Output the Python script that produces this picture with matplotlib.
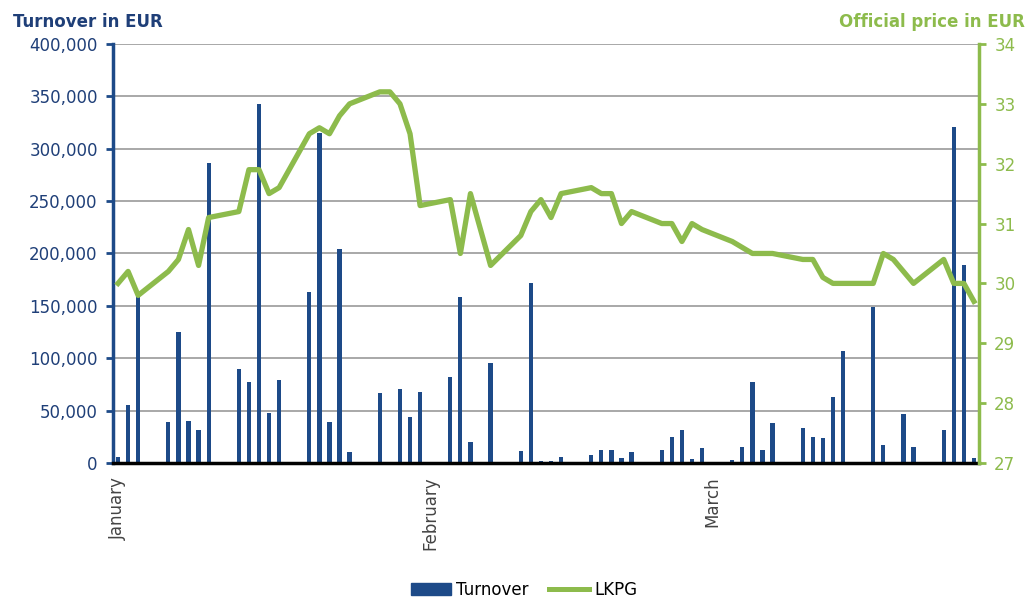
import matplotlib
matplotlib.use("Agg")
import matplotlib.pyplot as plt
from matplotlib.patches import Patch
from matplotlib.lines import Line2D
from matplotlib.ticker import FuncFormatter

# days counted from 1 January
bar_days = [0, 1, 2, 5, 6, 7, 8, 9, 12, 13, 14, 15, 16, 19, 20, 21, 22, 23,
            26, 28, 29, 30, 33, 34, 35, 37, 40, 41, 42, 43, 44, 47, 48, 49, 50, 51,
            54, 55, 56, 57, 58, 61, 62, 63, 64, 65, 68, 69, 70, 71, 72,
            75, 76, 78, 79, 82, 83, 84, 85]
turnover = [6000, 55000, 159000, 39500, 125000, 40000, 31500, 286000, 90000, 77000,
            343000, 47400, 79000, 163500, 315000, 39400, 204000, 10800,
            66500, 70600, 44200, 68100, 81800, 158800, 20400, 95200,
            11800, 172100, 2200, 2200, 5400, 7600, 12400, 12400, 4500, 10800,
            12400, 24500, 31500, 3800, 14600, 2900, 15600, 77000, 12400, 37900,
            33100, 25100, 23600, 62700, 107200, 148600, 17200, 46500, 15600,
            31500, 321000, 189000, 4500]

price_days = [0, 1, 2, 5, 6, 7, 8, 9, 12, 13, 14, 15, 16, 19, 20, 21, 22, 23,
              26, 27, 28, 29, 30, 33, 34, 35, 37, 40, 41, 42, 43, 44, 47, 48, 49, 50, 51,
              54, 55, 56, 57, 58, 61, 62, 63, 64, 65, 68, 69, 70, 71, 72,
              75, 76, 77, 79, 82, 83, 84, 85]
price = [30.0, 30.2, 29.8, 30.2, 30.4, 30.9, 30.3, 31.1, 31.2, 31.9, 31.9, 31.5, 31.6,
         32.5, 32.6, 32.5, 32.8, 33.0, 33.2, 33.2, 33.0, 32.5, 31.3, 31.4, 30.5, 31.5,
         30.3, 30.8, 31.2, 31.4, 31.1, 31.5, 31.6, 31.5, 31.5, 31.0, 31.2,
         31.0, 31.0, 30.7, 31.0, 30.9, 30.7, 30.6, 30.5, 30.5, 30.5,
         30.4, 30.4, 30.1, 30.0, 30.0, 30.0, 30.5, 30.4, 30.0, 30.4, 30.0, 30.0, 29.7]

month_pos = [0, 31, 59]
month_labels = ["January", "February", "March"]

blue = "#1d4a88"
dark_blue = "#1f3f78"
green = "#8dbb4c"

fig = plt.figure(figsize=(10.28, 6.03), dpi=100)
ax = fig.add_axes([0.1099, 0.2322, 0.8424, 0.6949])
ax2 = ax.twinx()

ax.set_axisbelow(True)
ax.yaxis.grid(True, color="#9a9a9a", linewidth=1.2)
ax.bar(bar_days, turnover, width=0.42, color=blue, zorder=2)
ax2.plot(price_days, price, color=green, linewidth=3.8, solid_joinstyle="round")

ax.set_xlim(-0.5, 85.5)
ax.set_ylim(0, 400000)
ax2.set_ylim(27, 34)

ax.set_yticks(range(0, 400001, 50000))
ax.yaxis.set_major_formatter(FuncFormatter(lambda v, p: f"{int(v):,}"))
ax.tick_params(axis="y", colors=blue, labelcolor=dark_blue, labelsize=12,
               length=5, width=2, direction="out", pad=6)
ax2.set_yticks(range(27, 35))
ax2.tick_params(axis="y", colors=green, labelcolor=green, labelsize=12,
                length=5, width=2, direction="out", pad=6)

ax.set_xticks(month_pos)
ax.set_xticklabels(month_labels, rotation=90, va="top", ha="center",
                   color="#444444", fontsize=12)
ax.tick_params(axis="x", length=0, pad=10)

for a in (ax, ax2):
    a.spines["top"].set_visible(False)
ax.spines["left"].set_color(blue)
ax.spines["left"].set_linewidth(2.5)
ax.spines["right"].set_visible(False)
ax.spines["bottom"].set_color("black")
ax.spines["bottom"].set_linewidth(2.5)
ax2.spines["right"].set_color(green)
ax2.spines["right"].set_linewidth(2.5)
ax2.spines["left"].set_visible(False)
ax2.spines["bottom"].set_visible(False)

fig.text(0.0126, 0.955, "Turnover in EUR", color=dark_blue, fontsize=12,
         fontweight="bold", ha="left", va="baseline")
fig.text(0.997, 0.955, "Official price in EUR", color=green, fontsize=12,
         fontweight="bold", ha="right", va="baseline")

handles = [Patch(color=blue, label="Turnover"),
           Line2D([0], [0], color=green, linewidth=3.6, label="LKPG")]
fig.legend(handles=handles, loc="center", bbox_to_anchor=(0.51, 0.022), ncol=2,
           frameon=False, fontsize=12, handlelength=2.4, columnspacing=1.2,
           handletextpad=0.3)

fig.savefig("out.png", dpi=100)
